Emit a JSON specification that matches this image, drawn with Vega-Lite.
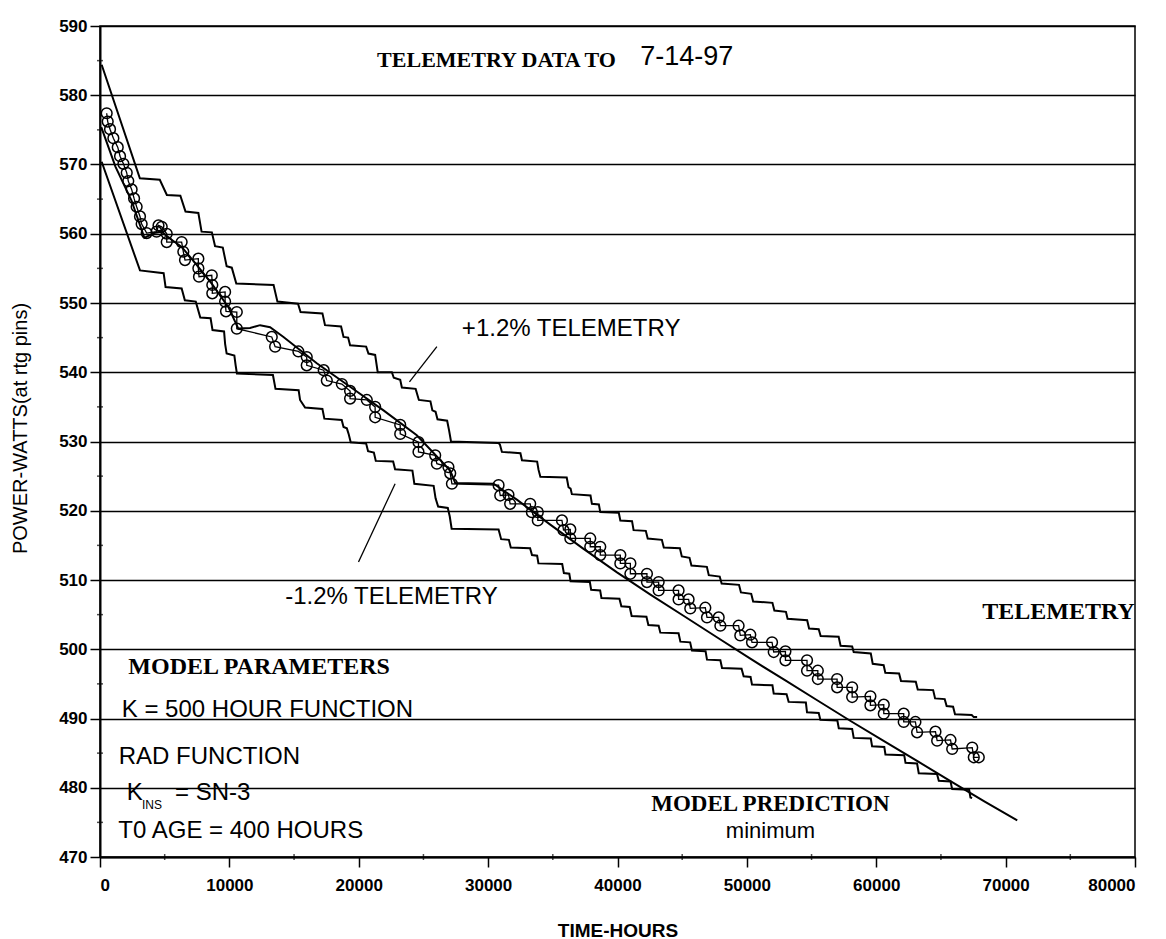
{
"$schema": "https://vega.github.io/schema/vega-lite/v6.json",
"width": 1035, "height": 831,
"autosize": {"type": "none"},
"padding": {"left": 100, "top": 26, "right": 31, "bottom": 82},
"background": "white",
"config": {"view": {"stroke": "black", "strokeWidth": 1.5}, "font": "Liberation Sans"},
"datasets": {
"lines": [
{"s":"upper","i":0,"x":129,"y":584.4},{"s":"upper","i":1,"x":3081,"y":568.0},{"s":"upper","i":2,"x":4621,"y":567.8},{"s":"upper","i":3,"x":5168,"y":565.6},{"s":"upper","i":4,"x":6211,"y":565.5},{"s":"upper","i":5,"x":6609,"y":563.2},{"s":"upper","i":6,"x":7603,"y":563.0},{"s":"upper","i":7,"x":7851,"y":560.3},{"s":"upper","i":8,"x":8646,"y":560.2},{"s":"upper","i":9,"x":8894,"y":558.2},{"s":"upper","i":10,"x":9491,"y":558.0},{"s":"upper","i":11,"x":9789,"y":555.3},{"s":"upper","i":12,"x":10187,"y":555.1},{"s":"upper","i":13,"x":10534,"y":552.8},{"s":"upper","i":14,"x":13416,"y":552.6},{"s":"upper","i":15,"x":13714,"y":550.2},{"s":"upper","i":16,"x":15305,"y":549.9},{"s":"upper","i":17,"x":15503,"y":548.7},{"s":"upper","i":18,"x":17193,"y":548.5},{"s":"upper","i":19,"x":17392,"y":546.8},{"s":"upper","i":20,"x":18634,"y":546.6},{"s":"upper","i":21,"x":18823,"y":545.1},{"s":"upper","i":22,"x":19180,"y":545.0},{"s":"upper","i":23,"x":19330,"y":543.9},{"s":"upper","i":24,"x":20572,"y":543.7},{"s":"upper","i":25,"x":20750,"y":542.7},{"s":"upper","i":26,"x":21267,"y":542.5},{"s":"upper","i":27,"x":21466,"y":540.0},{"s":"upper","i":28,"x":22559,"y":540.0},{"s":"upper","i":29,"x":22708,"y":539.2},{"s":"upper","i":30,"x":23205,"y":538.9},{"s":"upper","i":31,"x":23334,"y":537.8},{"s":"upper","i":32,"x":24398,"y":537.6},{"s":"upper","i":33,"x":24646,"y":536.0},{"s":"upper","i":34,"x":25541,"y":535.8},{"s":"upper","i":35,"x":25690,"y":534.5},{"s":"upper","i":36,"x":25938,"y":534.3},{"s":"upper","i":37,"x":26087,"y":533.2},{"s":"upper","i":38,"x":26833,"y":533.0},{"s":"upper","i":39,"x":26982,"y":531.6},{"s":"upper","i":40,"x":27131,"y":530.0},{"s":"upper","i":41,"x":30758,"y":529.8},{"s":"upper","i":42,"x":30907,"y":529.6},{"s":"upper","i":43,"x":31066,"y":528.5},{"s":"upper","i":44,"x":32497,"y":528.3},{"s":"upper","i":45,"x":32616,"y":527.3},{"s":"upper","i":46,"x":33789,"y":527.1},{"s":"upper","i":47,"x":33898,"y":525.9},{"s":"upper","i":48,"x":34037,"y":524.9},{"s":"upper","i":49,"x":36075,"y":524.8},{"s":"upper","i":50,"x":36214,"y":523.4},{"s":"upper","i":51,"x":36373,"y":523.2},{"s":"upper","i":52,"x":36473,"y":522.4},{"s":"upper","i":53,"x":37914,"y":522.2},{"s":"upper","i":54,"x":38023,"y":521.0},{"s":"upper","i":55,"x":38560,"y":520.9},{"s":"upper","i":56,"x":38669,"y":519.8},{"s":"upper","i":57,"x":40100,"y":519.7},{"s":"upper","i":58,"x":40219,"y":518.6},{"s":"upper","i":59,"x":41124,"y":518.5},{"s":"upper","i":60,"x":41243,"y":517.2},{"s":"upper","i":61,"x":42187,"y":517.1},{"s":"upper","i":62,"x":42336,"y":516.0},{"s":"upper","i":63,"x":43429,"y":515.8},{"s":"upper","i":64,"x":43578,"y":514.7},{"s":"upper","i":65,"x":44821,"y":514.6},{"s":"upper","i":66,"x":44970,"y":513.4},{"s":"upper","i":67,"x":45566,"y":513.2},{"s":"upper","i":68,"x":45715,"y":512.1},{"s":"upper","i":69,"x":46907,"y":511.9},{"s":"upper","i":70,"x":47056,"y":510.7},{"s":"upper","i":71,"x":47901,"y":510.5},{"s":"upper","i":72,"x":48050,"y":509.5},{"s":"upper","i":73,"x":49392,"y":509.3},{"s":"upper","i":74,"x":49541,"y":508.2},{"s":"upper","i":75,"x":50336,"y":508.0},{"s":"upper","i":76,"x":50485,"y":506.9},{"s":"upper","i":77,"x":51976,"y":506.7},{"s":"upper","i":78,"x":52125,"y":505.6},{"s":"upper","i":79,"x":53019,"y":505.4},{"s":"upper","i":80,"x":53148,"y":504.4},{"s":"upper","i":81,"x":54659,"y":504.2},{"s":"upper","i":82,"x":54808,"y":503.0},{"s":"upper","i":83,"x":55553,"y":502.9},{"s":"upper","i":84,"x":55702,"y":501.9},{"s":"upper","i":85,"x":57094,"y":501.8},{"s":"upper","i":86,"x":57243,"y":500.5},{"s":"upper","i":87,"x":58138,"y":500.4},{"s":"upper","i":88,"x":58257,"y":499.6},{"s":"upper","i":89,"x":59578,"y":499.4},{"s":"upper","i":90,"x":59727,"y":497.9},{"s":"upper","i":91,"x":60572,"y":497.7},{"s":"upper","i":92,"x":60701,"y":496.6},{"s":"upper","i":93,"x":61765,"y":496.5},{"s":"upper","i":94,"x":61914,"y":495.4},{"s":"upper","i":95,"x":63057,"y":495.3},{"s":"upper","i":96,"x":63206,"y":494.2},{"s":"upper","i":97,"x":64398,"y":494.1},{"s":"upper","i":98,"x":64547,"y":492.9},{"s":"upper","i":99,"x":65292,"y":492.8},{"s":"upper","i":100,"x":65441,"y":491.8},{"s":"upper","i":101,"x":65939,"y":491.7},{"s":"upper","i":102,"x":66088,"y":490.6},{"s":"upper","i":103,"x":67380,"y":490.5},{"s":"upper","i":104,"x":67539,"y":490.2},{"s":"upper","i":105,"x":67797,"y":490.2},
{"s":"lower","i":0,"x":129,"y":570.4},{"s":"lower","i":1,"x":3091,"y":554.7},{"s":"lower","i":2,"x":4919,"y":554.3},{"s":"lower","i":3,"x":5068,"y":552.3},{"s":"lower","i":4,"x":6311,"y":552.1},{"s":"lower","i":5,"x":6559,"y":550.4},{"s":"lower","i":6,"x":7404,"y":550.2},{"s":"lower","i":7,"x":7752,"y":547.9},{"s":"lower","i":8,"x":8547,"y":547.8},{"s":"lower","i":9,"x":8696,"y":546.1},{"s":"lower","i":10,"x":9590,"y":545.9},{"s":"lower","i":11,"x":9670,"y":544.1},{"s":"lower","i":12,"x":9789,"y":542.7},{"s":"lower","i":13,"x":10385,"y":542.4},{"s":"lower","i":14,"x":10485,"y":541.0},{"s":"lower","i":15,"x":10584,"y":539.8},{"s":"lower","i":16,"x":13366,"y":539.6},{"s":"lower","i":17,"x":13566,"y":537.6},{"s":"lower","i":18,"x":15354,"y":537.4},{"s":"lower","i":19,"x":15464,"y":536.0},{"s":"lower","i":20,"x":15851,"y":534.9},{"s":"lower","i":21,"x":17193,"y":534.7},{"s":"lower","i":22,"x":17342,"y":533.3},{"s":"lower","i":23,"x":18683,"y":533.1},{"s":"lower","i":24,"x":18823,"y":532.1},{"s":"lower","i":25,"x":19081,"y":531.9},{"s":"lower","i":26,"x":19230,"y":531.0},{"s":"lower","i":27,"x":19379,"y":529.9},{"s":"lower","i":28,"x":20572,"y":529.7},{"s":"lower","i":29,"x":20721,"y":528.6},{"s":"lower","i":30,"x":21168,"y":528.4},{"s":"lower","i":31,"x":21317,"y":527.2},{"s":"lower","i":32,"x":22659,"y":527.1},{"s":"lower","i":33,"x":22808,"y":526.0},{"s":"lower","i":34,"x":24149,"y":525.8},{"s":"lower","i":35,"x":24298,"y":523.9},{"s":"lower","i":36,"x":25789,"y":523.6},{"s":"lower","i":37,"x":25938,"y":521.8},{"s":"lower","i":38,"x":26137,"y":520.6},{"s":"lower","i":39,"x":26883,"y":520.4},{"s":"lower","i":40,"x":27031,"y":519.2},{"s":"lower","i":41,"x":27180,"y":517.4},{"s":"lower","i":42,"x":30808,"y":517.3},{"s":"lower","i":43,"x":31006,"y":515.9},{"s":"lower","i":44,"x":31603,"y":515.8},{"s":"lower","i":45,"x":31752,"y":514.7},{"s":"lower","i":46,"x":33243,"y":514.6},{"s":"lower","i":47,"x":33392,"y":513.6},{"s":"lower","i":48,"x":33789,"y":513.5},{"s":"lower","i":49,"x":33889,"y":512.4},{"s":"lower","i":50,"x":35727,"y":512.3},{"s":"lower","i":51,"x":35856,"y":511.0},{"s":"lower","i":52,"x":36274,"y":510.9},{"s":"lower","i":53,"x":36373,"y":509.8},{"s":"lower","i":54,"x":37864,"y":509.7},{"s":"lower","i":55,"x":37963,"y":508.6},{"s":"lower","i":56,"x":38659,"y":508.5},{"s":"lower","i":57,"x":38758,"y":507.4},{"s":"lower","i":58,"x":40150,"y":507.3},{"s":"lower","i":59,"x":40299,"y":506.2},{"s":"lower","i":60,"x":40944,"y":506.1},{"s":"lower","i":61,"x":41094,"y":504.8},{"s":"lower","i":62,"x":42237,"y":504.7},{"s":"lower","i":63,"x":42386,"y":503.5},{"s":"lower","i":64,"x":43181,"y":503.4},{"s":"lower","i":65,"x":43310,"y":502.4},{"s":"lower","i":66,"x":44721,"y":502.3},{"s":"lower","i":67,"x":44860,"y":501.1},{"s":"lower","i":68,"x":45615,"y":501.0},{"s":"lower","i":69,"x":45755,"y":499.8},{"s":"lower","i":70,"x":46808,"y":499.7},{"s":"lower","i":71,"x":46917,"y":498.5},{"s":"lower","i":72,"x":47951,"y":498.4},{"s":"lower","i":73,"x":48080,"y":497.3},{"s":"lower","i":74,"x":49590,"y":497.2},{"s":"lower","i":75,"x":49750,"y":496.1},{"s":"lower","i":76,"x":50286,"y":496.0},{"s":"lower","i":77,"x":50396,"y":494.9},{"s":"lower","i":78,"x":51976,"y":494.8},{"s":"lower","i":79,"x":52075,"y":493.6},{"s":"lower","i":80,"x":53069,"y":493.5},{"s":"lower","i":81,"x":53228,"y":492.4},{"s":"lower","i":82,"x":54560,"y":492.3},{"s":"lower","i":83,"x":54649,"y":490.9},{"s":"lower","i":84,"x":55553,"y":490.8},{"s":"lower","i":85,"x":55683,"y":489.8},{"s":"lower","i":86,"x":56994,"y":489.7},{"s":"lower","i":87,"x":57104,"y":488.6},{"s":"lower","i":88,"x":58138,"y":488.5},{"s":"lower","i":89,"x":58257,"y":487.2},{"s":"lower","i":90,"x":59578,"y":487.1},{"s":"lower","i":91,"x":59678,"y":486.0},{"s":"lower","i":92,"x":60622,"y":485.9},{"s":"lower","i":93,"x":60711,"y":484.8},{"s":"lower","i":94,"x":62162,"y":484.7},{"s":"lower","i":95,"x":62261,"y":483.6},{"s":"lower","i":96,"x":63156,"y":483.5},{"s":"lower","i":97,"x":63285,"y":482.1},{"s":"lower","i":98,"x":64696,"y":482.0},{"s":"lower","i":99,"x":64835,"y":481.0},{"s":"lower","i":100,"x":65740,"y":480.9},{"s":"lower","i":101,"x":65869,"y":479.8},{"s":"lower","i":102,"x":67181,"y":479.7},{"s":"lower","i":103,"x":67280,"y":478.6},{"s":"lower","i":104,"x":67409,"y":478.5},
{"s":"model","i":0,"x":99,"y":575.4},{"s":"model","i":1,"x":1193,"y":569.7},{"s":"model","i":2,"x":2435,"y":564.8},{"s":"model","i":3,"x":3429,"y":559.4},{"s":"model","i":4,"x":4174,"y":560.1},{"s":"model","i":5,"x":4770,"y":560.3},{"s":"model","i":6,"x":5267,"y":559.5},{"s":"model","i":7,"x":6311,"y":558.1},{"s":"model","i":8,"x":7344,"y":555.8},{"s":"model","i":9,"x":8636,"y":552.8},{"s":"model","i":10,"x":9928,"y":549.4},{"s":"model","i":11,"x":10693,"y":546.3},{"s":"model","i":12,"x":11598,"y":546.4},{"s":"model","i":13,"x":12373,"y":546.8},{"s":"model","i":14,"x":13148,"y":546.5},{"s":"model","i":15,"x":14182,"y":545.1},{"s":"model","i":16,"x":16756,"y":541.3},{"s":"model","i":17,"x":19330,"y":537.9},{"s":"model","i":18,"x":21913,"y":534.5},{"s":"model","i":19,"x":24487,"y":530.9},{"s":"model","i":20,"x":27071,"y":525.8},{"s":"model","i":21,"x":27459,"y":524.0},{"s":"model","i":22,"x":30420,"y":523.9},{"s":"model","i":23,"x":32219,"y":521.6},{"s":"model","i":24,"x":34803,"y":518.0},{"s":"model","i":25,"x":37377,"y":514.5},{"s":"model","i":26,"x":39961,"y":511.1},{"s":"model","i":27,"x":42545,"y":507.9},{"s":"model","i":28,"x":45129,"y":504.8},{"s":"model","i":29,"x":47713,"y":501.7},{"s":"model","i":30,"x":50297,"y":498.6},{"s":"model","i":31,"x":52881,"y":495.6},{"s":"model","i":32,"x":55465,"y":492.6},{"s":"model","i":33,"x":58049,"y":489.6},{"s":"model","i":34,"x":60633,"y":486.7},{"s":"model","i":35,"x":63217,"y":483.8},{"s":"model","i":36,"x":65801,"y":480.9},{"s":"model","i":37,"x":68385,"y":478.0},{"s":"model","i":38,"x":70898,"y":475.3}
],
"telem": [
{"i":1,"x":517,"y":577.4},{"i":2,"x":596,"y":576.2},{"i":3,"x":775,"y":575.1},{"i":4,"x":1034,"y":573.8},{"i":5,"x":1371,"y":572.5},{"i":6,"x":1550,"y":571.2},{"i":7,"x":1809,"y":570.1},{"i":8,"x":2067,"y":568.8},{"i":9,"x":2186,"y":567.6},{"i":10,"x":2445,"y":566.4},{"i":11,"x":2634,"y":565.1},{"i":12,"x":2832,"y":563.9},{"i":13,"x":3091,"y":562.5},{"i":14,"x":3220,"y":561.4},{"i":15,"x":3608,"y":560.1},{"i":16,"x":4373,"y":560.3},{"i":17,"x":4522,"y":561.2},{"i":18,"x":4770,"y":561.0},{"i":19,"x":5158,"y":560.0},{"i":20,"x":5158,"y":558.8},{"i":21,"x":6311,"y":558.8},{"i":22,"x":6440,"y":557.4},{"i":23,"x":6569,"y":556.2},{"i":24,"x":7603,"y":556.4},{"i":25,"x":7603,"y":555.0},{"i":26,"x":7652,"y":553.8},{"i":27,"x":8640,"y":554.0},{"i":28,"x":8680,"y":552.6},{"i":29,"x":8680,"y":551.4},{"i":30,"x":9670,"y":551.6},{"i":31,"x":9670,"y":550.2},{"i":32,"x":9740,"y":548.8},{"i":33,"x":10574,"y":548.7},{"i":34,"x":10574,"y":546.3},{"i":35,"x":13277,"y":545.1},{"i":36,"x":13536,"y":543.7},{"i":37,"x":15334,"y":543.0},{"i":38,"x":15980,"y":542.2},{"i":39,"x":15980,"y":541.0},{"i":40,"x":17292,"y":540.3},{"i":41,"x":17531,"y":538.8},{"i":42,"x":18694,"y":538.3},{"i":43,"x":19330,"y":537.3},{"i":44,"x":19330,"y":536.2},{"i":45,"x":20622,"y":536.0},{"i":46,"x":21267,"y":535.0},{"i":47,"x":21267,"y":533.5},{"i":48,"x":23205,"y":532.4},{"i":49,"x":23205,"y":531.1},{"i":50,"x":24617,"y":529.9},{"i":51,"x":24617,"y":528.5},{"i":52,"x":25909,"y":528.0},{"i":53,"x":26038,"y":526.8},{"i":54,"x":26932,"y":526.3},{"i":55,"x":27071,"y":525.4},{"i":56,"x":27201,"y":523.9},{"i":57,"x":30808,"y":523.7},{"i":58,"x":30937,"y":522.2},{"i":59,"x":31573,"y":522.3},{"i":60,"x":31702,"y":521.0},{"i":61,"x":33253,"y":521.0},{"i":62,"x":33382,"y":519.8},{"i":63,"x":33839,"y":519.8},{"i":64,"x":33839,"y":518.6},{"i":65,"x":35707,"y":518.6},{"i":66,"x":35827,"y":517.2},{"i":67,"x":36353,"y":517.3},{"i":68,"x":36353,"y":516.0},{"i":69,"x":37894,"y":516.0},{"i":70,"x":37894,"y":514.8},{"i":71,"x":38669,"y":514.8},{"i":72,"x":38669,"y":513.6},{"i":73,"x":40219,"y":513.6},{"i":74,"x":40219,"y":512.4},{"i":75,"x":40995,"y":512.4},{"i":76,"x":40995,"y":510.9},{"i":77,"x":42276,"y":510.9},{"i":78,"x":42276,"y":509.7},{"i":79,"x":43181,"y":509.7},{"i":80,"x":43181,"y":508.5},{"i":81,"x":44721,"y":508.5},{"i":82,"x":44721,"y":507.2},{"i":83,"x":45496,"y":507.2},{"i":84,"x":45625,"y":505.9},{"i":85,"x":46788,"y":506.0},{"i":86,"x":46917,"y":504.6},{"i":87,"x":47822,"y":504.6},{"i":88,"x":47951,"y":503.4},{"i":89,"x":49362,"y":503.4},{"i":90,"x":49491,"y":502.0},{"i":91,"x":50266,"y":502.1},{"i":92,"x":50396,"y":501.0},{"i":93,"x":51946,"y":501.0},{"i":94,"x":52075,"y":499.6},{"i":95,"x":52980,"y":499.7},{"i":96,"x":52980,"y":498.4},{"i":97,"x":54650,"y":498.4},{"i":98,"x":54650,"y":496.9},{"i":99,"x":55484,"y":496.9},{"i":100,"x":55484,"y":495.7},{"i":101,"x":56975,"y":495.7},{"i":102,"x":56975,"y":494.5},{"i":103,"x":58138,"y":494.5},{"i":104,"x":58138,"y":493.1},{"i":105,"x":59549,"y":493.2},{"i":106,"x":59549,"y":491.9},{"i":107,"x":60582,"y":492.0},{"i":108,"x":60582,"y":490.7},{"i":109,"x":62123,"y":490.7},{"i":110,"x":62123,"y":489.5},{"i":111,"x":63027,"y":489.5},{"i":112,"x":63156,"y":488.0},{"i":113,"x":64577,"y":488.1},{"i":114,"x":64707,"y":486.8},{"i":115,"x":65740,"y":486.9},{"i":116,"x":65869,"y":485.6},{"i":117,"x":67419,"y":485.8},{"i":118,"x":67539,"y":484.4},{"i":119,"x":67926,"y":484.4}
],
"xminor": [{"x":5000,"y":470},{"x":15000,"y":470},{"x":25000,"y":470},{"x":35000,"y":470},{"x":45000,"y":470},{"x":55000,"y":470},{"x":65000,"y":470},{"x":75000,"y":470}],
"yminor": [{"x":0,"y":475},{"x":0,"y":485},{"x":0,"y":495},{"x":0,"y":505},{"x":0,"y":515},{"x":0,"y":525},{"x":0,"y":535},{"x":0,"y":545},{"x":0,"y":555},{"x":0,"y":565},{"x":0,"y":575},{"x":0,"y":585}]
},
"encoding": {
"x": {"field": "x", "type": "quantitative", "scale": {"domain": [0, 80000], "nice": false, "zero": false},
 "axis": {"title": "TIME-HOURS", "values": [0,10000,20000,30000,40000,50000,60000,70000,80000], "format": "d", "grid": false,
  "tickSize": 10, "tickColor": "black", "tickWidth": 1.5, "domainColor": "black", "domainWidth": 2,
  "labelFont": "Liberation Sans", "labelFontWeight": "bold", "labelFontSize": 17, "labelColor": "black", "labelPadding": 10,
  "titleFont": "Liberation Sans", "titleFontWeight": "bold", "titleFontSize": 19, "titleColor": "black", "titleY": 73, "titleBaseline": "middle"}},
"y": {"field": "y", "type": "quantitative", "scale": {"domain": [470, 590], "nice": false, "zero": false},
 "axis": {"title": "POWER-WATTS(at rtg pins)", "values": [470,480,490,500,510,520,530,540,550,560,570,580,590], "format": "d",
  "grid": true, "gridColor": "black", "gridWidth": 1.5, "gridOpacity": 1,
  "tickSize": 10, "tickColor": "black", "tickWidth": 1.5, "domainColor": "black", "domainWidth": 2,
  "labelFont": "Liberation Sans", "labelFontWeight": "bold", "labelFontSize": 17, "labelColor": "black", "labelPadding": 3,
  "titleFont": "Liberation Sans", "titleFontWeight": "normal", "titleFontSize": 20, "titleColor": "black", "titleX": -80, "titleY": 402, "titleBaseline": "middle"}}
},
"layer": [
{"data": {"name": "xminor"}, "mark": {"type": "tick", "orient": "vertical", "color": "black", "size": 6, "thickness": 1.5}},
{"data": {"name": "yminor"}, "mark": {"type": "tick", "orient": "horizontal", "color": "black", "size": 6, "thickness": 1.5}},
{"data": {"name": "lines"}, "mark": {"type": "line", "color": "black", "strokeWidth": 2}, "encoding": {"detail": {"field": "s"}, "order": {"field": "i", "type": "quantitative"}}},
{"data": {"name": "telem"}, "mark": {"type": "line", "color": "black", "strokeWidth": 1.3}, "encoding": {"order": {"field": "i", "type": "quantitative"}}},
{"data": {"name": "telem"}, "mark": {"type": "point", "shape": "circle", "filled": false, "stroke": "black", "strokeWidth": 1.5, "size": 115, "opacity": 1}},
{"data": {"values": [{"x": 26040, "y": 543.7, "x2": 23920, "y2": 538.6}, {"x": 22810, "y": 523.9, "x2": 19980, "y2": 512.6}]},
 "mark": {"type": "rule", "color": "black", "strokeWidth": 1.3}, "encoding": {"x2": {"field": "x2"}, "y2": {"field": "y2"}}},
{"data": {"values": [{"x": 21420, "y": 585.1, "t": "TELEMETRY DATA TO"}]},
 "mark": {"type": "text", "font": "Liberation Serif", "fontWeight": "bold", "fontSize": 22, "align": "left", "baseline": "middle", "color": "black"}, "encoding": {"text": {"field": "t"}}},
{"data": {"values": [{"x": 68190, "y": 505.4, "t": "TELEMETRY"}, {"x": 2190, "y": 497.4, "t": "MODEL PARAMETERS"}]},
 "mark": {"type": "text", "font": "Liberation Serif", "fontWeight": "bold", "fontSize": 24, "align": "left", "baseline": "middle", "color": "black"}, "encoding": {"text": {"field": "t"}}},
{"data": {"values": [{"x": 51820, "y": 477.7, "t": "MODEL PREDICTION"}]},
 "mark": {"type": "text", "font": "Liberation Serif", "fontWeight": "bold", "fontSize": 23, "align": "center", "baseline": "middle", "color": "black"}, "encoding": {"text": {"field": "t"}}},
{"data": {"values": [{"x": 41760, "y": 585.5, "t": "7-14-97"}]},
 "mark": {"type": "text", "font": "Liberation Sans", "fontSize": 27, "align": "left", "baseline": "middle", "color": "black"}, "encoding": {"text": {"field": "t"}}},
{"data": {"values": [{"x": 27970, "y": 546.3, "t": "+1.2% TELEMETRY"}, {"x": 14310, "y": 507.5, "t": "-1.2% TELEMETRY"}, {"x": 1680, "y": 491.2, "t": "K = 500 HOUR FUNCTION"}, {"x": 1450, "y": 484.4, "t": "RAD FUNCTION"}, {"x": 2060, "y": 479.2, "t": "K"}, {"x": 5800, "y": 479.2, "t": "= SN-3"}, {"x": 1420, "y": 473.8, "t": "T0 AGE = 400 HOURS"}]},
 "mark": {"type": "text", "font": "Liberation Sans", "fontSize": 24, "align": "left", "baseline": "middle", "color": "black"}, "encoding": {"text": {"field": "t"}}},
{"data": {"values": [{"x": 3240, "y": 477.5, "t": "INS"}]},
 "mark": {"type": "text", "font": "Liberation Sans", "fontSize": 12, "align": "left", "baseline": "middle", "color": "black"}, "encoding": {"text": {"field": "t"}}},
{"data": {"values": [{"x": 51820, "y": 473.7, "t": "minimum"}]},
 "mark": {"type": "text", "font": "Liberation Sans", "fontSize": 22, "align": "center", "baseline": "middle", "color": "black"}, "encoding": {"text": {"field": "t"}}}
]
}
